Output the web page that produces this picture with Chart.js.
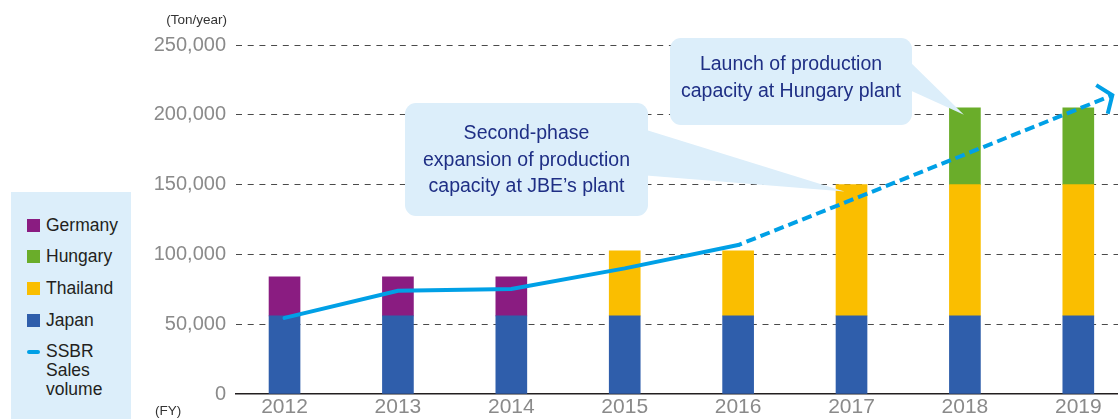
<!DOCTYPE html>
<html>
<head>
<meta charset="utf-8">
<script src="https://cdn.jsdelivr.net/npm/chart.js@4.4.1/dist/chart.umd.min.js"></script>
<style>
  html, body { margin: 0; padding: 0; background: #fff; overflow: hidden; }
  #wrap { position: relative; width: 1118px; height: 419px; }
  #chart { position: absolute; left: 0; top: 0; }
  #legend {
    position: absolute; left: 11px; top: 192px; width: 120px; height: 227px;
    background: #dceefa;
    font-family: "Liberation Sans", Arial, sans-serif; font-size: 17.5px; color: #231f20;
  }
  #legend .item { position: absolute; left: 16px; white-space: nowrap; }
  #legend .sw { position: absolute; left: 0; width: 13px; height: 13px; }
  #legend .txt { position: absolute; left: 19px; line-height: 19px; }
</style>
</head>
<body>
<div id="wrap">
  <canvas id="chart" width="1118" height="419"></canvas>
  <div id="legend"></div>
</div>
<script>
// capacity by plant (ton/year)
const years = [2012, 2013, 2014, 2015, 2016, 2017, 2018, 2019];
const japan    = [56000, 56000, 56000, 56000, 56000, 56000, 56000, 56000];
const thailand = [null, null, null, 46500, 46500, 94000, 94000, 94000];
const hungary  = [null, null, null, null, null, null, 55000, 55000];
const germany  = [28000, 28000, 28000, null, null, null, null, null];

// SSBR sales volume, actual and plan
const salesYears  = [2012, 2013, 2014, 2015, 2016];
const salesActual = [54500, 74000, 75200, 90000, 106700];
const planYears   = [2016, 2017, 2018, 2019, 2019.3];
const salesPlan   = [106700, 139000, 171600, 204200, 214000];

const yTicks = [0, 50000, 100000, 150000, 200000, 250000];

const FONT = '"Liberation Sans", Arial, sans-serif';
const LINE_COLOR = '#00a0e6';
const BOX_FILL = '#dceefa';
const NAVY = '#1f2f85';

const toXY = (xs, ys) => xs.map((x, i) => ({ x: x, y: ys[i] }));

const calloutPlugin = {
  id: 'callouts',
  afterDatasetsDraw(chart) {
    const ctx = chart.ctx;
    const x = chart.scales.x, y = chart.scales.y;

    function callout(box, base, tip, lines, lineYs) {
      ctx.save();
      ctx.fillStyle = BOX_FILL;
      ctx.beginPath();
      ctx.roundRect(box.x, box.y, box.w, box.h, 11);
      ctx.fill();
      ctx.beginPath();
      ctx.moveTo(base[0][0], base[0][1]);
      ctx.lineTo(tip[0], tip[1]);
      ctx.lineTo(base[1][0], base[1][1]);
      ctx.closePath();
      ctx.fill();
      ctx.fillStyle = NAVY;
      ctx.font = '19.5px ' + FONT;
      ctx.textAlign = 'center';
      ctx.textBaseline = 'middle';
      lines.forEach((t, i) => ctx.fillText(t, box.x + box.w / 2, lineYs[i]));
      ctx.restore();
    }

    callout({ x: 405, y: 103, w: 243, h: 113 },
      [[640, 128], [640, 175]],
      [x.getPixelForValue(2017) - 7, y.getPixelForValue(150000) + 7],
      ['Second-phase', 'expansion of production', 'capacity at JBE\u2019s plant'],
      [134, 161, 187]);

    callout({ x: 670, y: 38, w: 242, h: 87 },
      [[905, 57], [905, 88]],
      [x.getPixelForValue(2018) - 1, y.getPixelForValue(205000) + 7],
      ['Launch of production', 'capacity at Hungary plant'],
      [65, 92]);

    // arrow head at end of plan line
    const meta = chart.getDatasetMeta(5);
    const pts = meta.data;
    const p1 = pts[pts.length - 1], p0 = pts[pts.length - 2];
    const ang = Math.atan2(p1.y - p0.y, p1.x - p0.x);
    const len = 19, spread = Math.PI * 0.3;
    ctx.save();
    ctx.strokeStyle = LINE_COLOR;
    ctx.lineWidth = 4;
    ctx.lineJoin = 'miter';
    ctx.beginPath();
    ctx.moveTo(p1.x - len * Math.cos(ang - spread), p1.y - len * Math.sin(ang - spread));
    ctx.lineTo(p1.x, p1.y);
    ctx.lineTo(p1.x - len * Math.cos(ang + spread), p1.y - len * Math.sin(ang + spread));
    ctx.stroke();

    // unit labels
    ctx.fillStyle = '#333';
    ctx.font = '13.5px ' + FONT;
    ctx.textBaseline = 'middle';
    ctx.textAlign = 'right';
    ctx.fillText('(Ton/year)', 227, 20);
    ctx.textAlign = 'left';
    ctx.fillText('(FY)', 155, 411);
    ctx.restore();
  }
};

const chart = new Chart(document.getElementById('chart'), {
  type: 'bar',
  data: {
    labels: years,
    datasets: [
      { label: 'Japan', data: japan, backgroundColor: '#2f5eab', stack: 'cap', order: 1, barThickness: 31 },
      { label: 'Thailand', data: thailand, backgroundColor: '#fabe00', stack: 'cap', order: 1, barThickness: 31 },
      { label: 'Hungary', data: hungary, backgroundColor: '#6aad2a', stack: 'cap', order: 1, barThickness: 31 },
      { label: 'Germany', data: germany, backgroundColor: '#8a1c81', stack: 'cap', order: 1, barThickness: 31 },
      {
        type: 'line', label: 'SSBR Sales volume', data: toXY(salesYears, salesActual),
        borderColor: LINE_COLOR, borderWidth: 4, pointRadius: 0, tension: 0,
        borderCapStyle: 'round', stack: 'actual', order: 0
      },
      {
        type: 'line', label: 'plan', data: toXY(planYears, salesPlan),
        borderColor: LINE_COLOR, borderWidth: 4, pointRadius: 0, tension: 0,
        borderDash: [10, 5], borderDashOffset: 6, stack: 'plan', order: 0
      }
    ]
  },
  options: {
    responsive: false,
    animation: false,
    layout: { padding: { top: 45, left: 0, right: 0, bottom: 0 } },
    plugins: { legend: { display: false }, tooltip: { enabled: false } },
    scales: {
      x: {
        type: 'linear', min: 2011.572, max: 2019.35, offset: false,
        afterBuildTicks: s => { s.ticks = years.map(v => ({ value: v })); },
        afterFit: s => { s.height = 25; },
        grid: { display: false, drawTicks: false, offset: false },
        border: { display: true, color: '#231f20', width: 1.5 },
        ticks: {
          color: '#8a8a8a', font: { family: FONT, size: 21 }, padding: 1,
          autoSkip: false, maxRotation: 0, callback: v => String(v)
        }
      },
      y: {
        min: 0, max: 250000, stacked: true,
        afterBuildTicks: s => { s.ticks = yTicks.map(v => ({ value: v })); },
        afterFit: s => { s.width = 236; },
        grid: {
          color: c => c.tick && c.tick.value === 0 ? 'rgba(0,0,0,0)' : '#4a4a4a',
          lineWidth: 1, drawTicks: false
        },
        border: { display: false, dash: [6, 5.7] },
        ticks: {
          color: '#8a8a8a', font: { family: FONT, size: 20 }, padding: 10,
          callback: v => v.toLocaleString('en-US')
        }
      }
    }
  },
  plugins: [calloutPlugin]
});

// legend box, built from the datasets
(function buildLegend() {
  const el = document.getElementById('legend');
  const bars = chart.data.datasets.filter(d => d.type !== 'line').slice().reverse();
  bars.forEach((d, i) => {
    const cy = 33 + i * 31.7;
    const item = document.createElement('div');
    item.className = 'item';
    item.style.top = (cy - 9.5) + 'px';
    item.innerHTML = '<span class="sw" style="top:3px;background:' + d.backgroundColor + '"></span>' +
      '<span class="txt">' + d.label + '</span>';
    el.appendChild(item);
  });
  const line = chart.data.datasets[4];
  const item = document.createElement('div');
  item.className = 'item';
  item.style.top = (33 + 4 * 31.7 - 9.5) + 'px';
  item.innerHTML = '<span class="sw" style="top:8px;height:3.5px;width:12.5px;border-radius:2px;background:' + line.borderColor + '"></span>' +
    '<span class="txt">' + line.label.split(' ').join('<br>') + '</span>';
  el.appendChild(item);
})();
</script>
</body>
</html>
